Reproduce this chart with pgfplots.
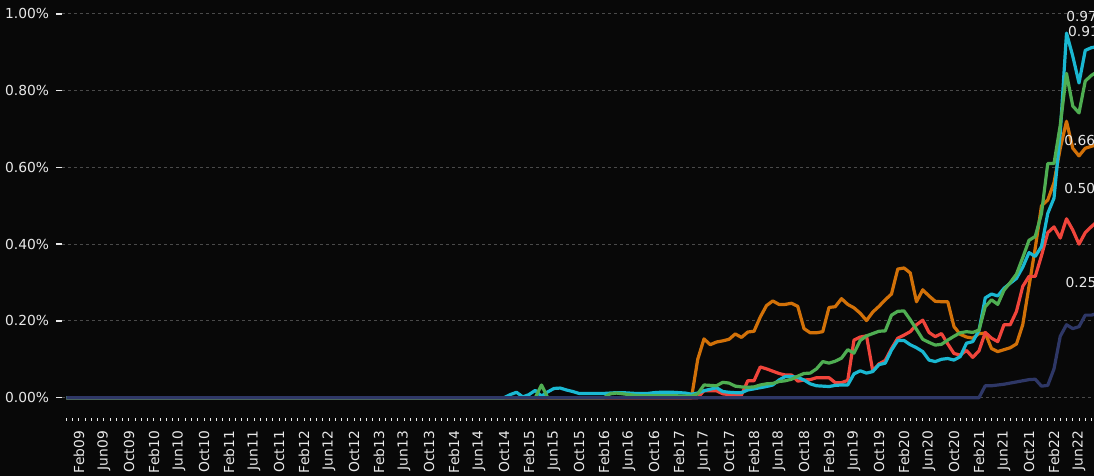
\documentclass[border=0pt]{standalone}
\usepackage{fontspec}
\setmainfont{DejaVu Sans}
\usepackage{pgfplots}
\pgfplotsset{compat=1.18}
\definecolor{bg}{HTML}{080808}
\definecolor{cCyan}{HTML}{1AB8D2}
\definecolor{cGreen}{HTML}{4FAE52}
\definecolor{cOrange}{HTML}{D27108}
\definecolor{cRed}{HTML}{F0453B}
\definecolor{cNavy}{HTML}{2E3766}
\definecolor{txt}{HTML}{E8E8E8}
\definecolor{gridc}{HTML}{4A4A4A}
\begin{document}
\begin{tikzpicture}
\fill[bg] (-31pt,-29pt) rectangle (516pt,209pt);
\begin{axis}[
  at={(0,0)}, anchor=south west,
  scale only axis, width=516pt, height=205.7pt,
  xmin=-2.72, xmax=162.4, ymin=-0.053, ymax=1.019,
  axis line style={draw=none},
  clip=true,
  xtick={0,4,...,160},
  xticklabels={Feb09,Jun09,Oct09,Feb10,Jun10,Oct10,Feb11,Jun11,Oct11,Feb12,Jun12,Oct12,Feb13,Jun13,Oct13,Feb14,Jun14,Oct14,Feb15,Jun15,Oct15,Feb16,Jun16,Oct16,Feb17,Jun17,Oct17,Feb18,Jun18,Oct18,Feb19,Jun19,Oct19,Feb20,Jun20,Oct20,Feb21,Jun21,Oct21,Feb22,Jun22},
  minor xtick={-2,-1,...,163},
  ytick={0,0.2,0.4,0.6,0.8,1.0},
  yticklabels={0.00\%,0.20\%,0.40\%,0.60\%,0.80\%,1.00\%},
  xtick pos=bottom, ytick pos=left, tick align=outside,
  major tick length=3pt, minor tick length=1.5pt,
  xtick style={/pgfplots/major tick length=1.5pt, /pgfplots/minor tick length=1.5pt, draw=txt!80, line width=0.5pt},
  ytick style={draw=txt, line width=0.8pt},
  x tick label style={rotate=90, anchor=east, font=\fontsize{6.9}{8}\selectfont, text=txt},
  y tick label style={font=\fontsize{6.9}{8}\selectfont, text=txt},
  ymajorgrids,
  major grid style={draw=gridc, line width=0.5pt, dash pattern=on 1.5pt off 1.5pt},
  every axis plot/.append style={line width=1.6pt, line join=round, no markers},
]
% orange
\addplot[cOrange] coordinates {(-2,0)(98,0)(99,0.10)(100,0.153)(101,0.138)(102,0.145)(103,0.148)(104,0.152)(105,0.166)(106,0.157)(107,0.171)(108,0.173)(109,0.21)(110,0.24)(111,0.252)(112,0.243)(113,0.243)(114,0.246)(115,0.238)(116,0.18)(117,0.169)(118,0.169)(119,0.172)(120,0.235)(121,0.237)(122,0.258)(123,0.243)(124,0.234)(125,0.22)(126,0.201)(127,0.223)(128,0.238)(129,0.255)(130,0.27)(131,0.335)(132,0.338)(133,0.325)(134,0.25)(135,0.281)(136,0.265)(137,0.251)(138,0.25)(139,0.25)(140,0.185)(141,0.165)(142,0.158)(143,0.155)(144,0.167)(145,0.168)(146,0.128)(147,0.12)(148,0.125)(149,0.13)(150,0.14)(151,0.19)(152,0.29)(153,0.39)(154,0.5)(155,0.515)(156,0.56)(157,0.65)(158,0.72)(159,0.65)(160,0.63)(161,0.65)(162,0.655)(163,0.66)};
% red
\addplot[cRed] coordinates {(-2,0)(99,0)(100,0.018)(101,0.018)(102,0.018)(103,0.01)(104,0.008)(105,0.007)(106,0.007)(107,0.044)(108,0.044)(109,0.08)(110,0.075)(111,0.069)(112,0.063)(113,0.059)(114,0.059)(115,0.043)(116,0.046)(117,0.047)(118,0.052)(119,0.052)(120,0.052)(121,0.039)(122,0.039)(123,0.045)(124,0.15)(125,0.158)(126,0.161)(127,0.07)(128,0.088)(129,0.097)(130,0.128)(131,0.155)(132,0.163)(133,0.172)(134,0.19)(135,0.202)(136,0.17)(137,0.159)(138,0.167)(139,0.14)(140,0.115)(141,0.111)(142,0.123)(143,0.105)(144,0.122)(145,0.17)(146,0.155)(147,0.146)(148,0.19)(149,0.19)(150,0.225)(151,0.29)(152,0.316)(153,0.316)(154,0.37)(155,0.43)(156,0.445)(157,0.416)(158,0.466)(159,0.437)(160,0.4)(161,0.43)(162,0.446)(163,0.46)};
% cyan
\addplot[cCyan] coordinates {(-2,0)(68,0)(69,0.008)(70,0.014)(71,0.002)(72,0.008)(73,0.019)(74,0.004)(75,0.015)(76,0.024)(77,0.025)(78,0.02)(79,0.016)(80,0.011)(81,0.011)(82,0.011)(83,0.011)(84,0.011)(85,0.012)(86,0.013)(87,0.013)(88,0.012)(89,0.011)(90,0.011)(91,0.011)(92,0.013)(93,0.014)(94,0.014)(95,0.014)(96,0.013)(97,0.012)(98,0.009)(99,0.012)(100,0.018)(101,0.022)(102,0.026)(103,0.016)(104,0.014)(105,0.013)(106,0.013)(107,0.02)(108,0.023)(109,0.026)(110,0.029)(111,0.033)(112,0.046)(113,0.055)(114,0.055)(115,0.053)(116,0.046)(117,0.036)(118,0.031)(119,0.03)(120,0.029)(121,0.032)(122,0.033)(123,0.033)(124,0.062)(125,0.07)(126,0.064)(127,0.068)(128,0.086)(129,0.09)(130,0.124)(131,0.149)(132,0.149)(133,0.138)(134,0.13)(135,0.12)(136,0.098)(137,0.094)(138,0.1)(139,0.102)(140,0.098)(141,0.107)(142,0.142)(143,0.146)(144,0.175)(145,0.26)(146,0.27)(147,0.265)(148,0.285)(149,0.298)(150,0.311)(151,0.34)(152,0.378)(153,0.368)(154,0.394)(155,0.48)(156,0.52)(157,0.69)(158,0.95)(159,0.89)(160,0.82)(161,0.905)(162,0.912)(163,0.915)};
% green
\addplot[cGreen] coordinates {(-2,0)(73,0)(74,0.033)(75,0)(84,0)(85,0.01)(86,0.012)(87,0.01)(88,0.008)(89,0.006)(90,0.005)(95,0.005)(98,0.004)(99,0.01)(100,0.033)(101,0.032)(102,0.031)(103,0.04)(104,0.038)(105,0.03)(106,0.028)(107,0.027)(108,0.028)(109,0.033)(110,0.036)(111,0.037)(112,0.042)(113,0.044)(114,0.048)(115,0.056)(116,0.063)(117,0.064)(118,0.075)(119,0.094)(120,0.09)(121,0.095)(122,0.103)(123,0.125)(124,0.116)(125,0.149)(126,0.161)(127,0.167)(128,0.173)(129,0.174)(130,0.215)(131,0.225)(132,0.226)(133,0.203)(134,0.178)(135,0.152)(136,0.144)(137,0.137)(138,0.139)(139,0.15)(140,0.16)(141,0.169)(142,0.172)(143,0.17)(144,0.176)(145,0.237)(146,0.255)(147,0.243)(148,0.28)(149,0.3)(150,0.322)(151,0.365)(152,0.41)(153,0.42)(154,0.48)(155,0.61)(156,0.61)(157,0.71)(158,0.845)(159,0.76)(160,0.742)(161,0.825)(162,0.84)(163,0.85)};
% navy
\addplot[cNavy] coordinates {(-2,0)(144,0)(145,0.031)(146,0.031)(147,0.033)(148,0.035)(149,0.038)(150,0.041)(151,0.044)(152,0.047)(153,0.048)(154,0.03)(155,0.032)(156,0.075)(157,0.16)(158,0.19)(159,0.18)(160,0.185)(161,0.215)(162,0.215)(163,0.22)};
\node[anchor=west, text=txt, font=\fontsize{6.9}{8}\selectfont, inner sep=0pt] at (axis cs:157.9,0.993) {0.97};
\node[anchor=west, text=txt, font=\fontsize{6.9}{8}\selectfont, inner sep=0pt] at (axis cs:158.2,0.953) {0.91};
\node[anchor=west, text=txt, font=\fontsize{6.9}{8}\selectfont, inner sep=0pt] at (axis cs:157.6,0.669) {0.66};
\node[anchor=west, text=txt, font=\fontsize{6.9}{8}\selectfont, inner sep=0pt] at (axis cs:157.6,0.544) {0.50};
\node[anchor=west, text=txt, font=\fontsize{6.9}{8}\selectfont, inner sep=0pt] at (axis cs:157.8,0.299) {0.25};
\end{axis}
\pgfresetboundingbox
\useasboundingbox (-31pt,-29pt) rectangle (516pt,209pt);
\end{tikzpicture}
\end{document}
